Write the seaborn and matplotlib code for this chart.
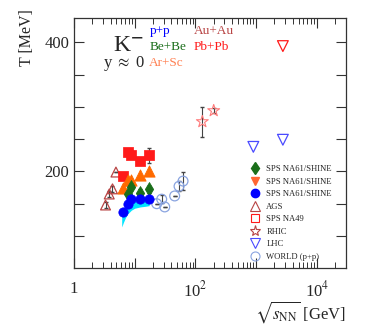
import numpy as np
import seaborn as sns
import matplotlib.pyplot as plt
import matplotlib.ticker as mticker
from matplotlib.lines import Line2D

# p+p NA61/SHINE
pp_s = [6.3, 7.6, 8.8, 12.3, 17.3]
pp_T = [137, 149, 157, 157, 157]
pp_err = [3, 4, 3, 3, 3]
# p+p fit band
band_s = [6.1, 6.5, 7.0, 7.6, 8.8, 10.0, 12.3, 15.0, 17.3]
band_lo = [114, 121, 128, 134, 140, 143, 145, 146, 147]
band_hi = [134, 141, 147, 152, 157, 160, 161, 161, 160]
# Be+Be NA61/SHINE
bebe_s = [7.6, 8.8, 12.3, 17.3]
bebe_T = [165, 176, 167, 172]
bebe_err = [5, 5, 5, 5]
# Ar+Sc NA61/SHINE
arsc_s = [6.3, 7.6, 8.8, 12.3, 17.3]
arsc_T = [174, 186, 187, 195, 200]
# Pb+Pb NA49
na49_s = [6.3, 7.6, 8.8, 12.3, 17.3]
na49_T = [193, 230, 225, 216, 225]
na49_err = [4, 5, 5, 5, 12]
# AGS Au+Au
ags_s = [3.3, 3.8, 4.3, 4.9]
ags_T = [148, 165, 173, 199]
ags_err = [5, 5, 5, 0]
# RHIC Au+Au
rhic_s = [130, 200]
rhic_T = [277, 294]
rhic_err = [23, 4]
# LHC p+p and Pb+Pb
lhc_pp_s = [900, 2760]
lhc_pp_T = [238, 249]
lhc_pb_s = [2760]
lhc_pb_T = [394]
# world p+p
world_s = [23, 27.8, 31.2, 45.5, 53.7, 62.5]
world_T = [150, 157, 145, 162, 177, 185]
world_err = [0, 6, 0, 0, 8, 14]

legend_labels = ["SPS NA61/SHINE", "SPS NA61/SHINE", "SPS NA61/SHINE", "AGS",
                 "SPS NA49", "RHIC", "LHC", "WORLD (p+p)"]

sns.set_style("ticks")
plt.rcParams['font.family'] = ['Liberation Serif', 'DejaVu Serif']
plt.rcParams['mathtext.fontset'] = 'stix'

fig = plt.figure(figsize=(3.74, 3.36), dpi=100)
ax = fig.add_axes([0.198, 0.2015, 0.7265, 0.744])

c_blue = "#0000ff"
c_green = "#1a6e1a"
c_orange = "#ff6a00"
c_red = "#ff1a1a"
c_brown = "#b84444"
c_salmon = "#ff7a7a"
c_lblue = "#8aa4e0"
c_lhc = "#4a4aff"
c_arsc = "#ff7f50"

ax.fill_between(band_s, band_lo, band_hi, color="#00e5ff", lw=0, zorder=1)

ebkw = dict(fmt="none", ecolor="#444444", elinewidth=0.8, capsize=1.2, zorder=2)
ax.errorbar(ags_s, ags_T, yerr=ags_err, **ebkw)
ax.errorbar(na49_s, na49_T, yerr=na49_err, **ebkw)
ax.errorbar(bebe_s, bebe_T, yerr=bebe_err, **ebkw)
ax.errorbar(pp_s, pp_T, yerr=pp_err, **ebkw)
ax.errorbar(rhic_s, rhic_T, yerr=rhic_err, **ebkw)
ax.errorbar(world_s, world_T, yerr=world_err, **ebkw)

sns.scatterplot(x=ags_s, y=ags_T, marker="^", s=50, facecolor="none",
                edgecolor=c_brown, linewidth=0.9, ax=ax, zorder=3)
sns.scatterplot(x=world_s, y=world_T, marker="o", s=50, facecolor="none",
                edgecolor=c_lblue, linewidth=0.9, ax=ax, zorder=3)
sns.scatterplot(x=na49_s, y=na49_T, marker="s", s=45, color=c_red,
                edgecolor=c_red, ax=ax, zorder=4)
sns.scatterplot(x=arsc_s, y=arsc_T, marker="^", s=65, color=c_orange,
                edgecolor=c_orange, ax=ax, zorder=4)
sns.scatterplot(x=bebe_s, y=bebe_T, marker="d", s=50, color=c_green,
                edgecolor=c_green, ax=ax, zorder=5)
sns.scatterplot(x=pp_s, y=pp_T, marker="o", s=45, color=c_blue,
                edgecolor=c_blue, ax=ax, zorder=5)
sns.scatterplot(x=rhic_s, y=rhic_T, marker="*", s=80, facecolor="none",
                edgecolor=c_salmon, linewidth=0.8, ax=ax, zorder=4)
sns.scatterplot(x=lhc_pp_s, y=lhc_pp_T, marker="v", s=60, facecolor="none",
                edgecolor=c_lhc, linewidth=0.9, ax=ax, zorder=4)
sns.scatterplot(x=lhc_pb_s, y=lhc_pb_T, marker="v", s=60, facecolor="none",
                edgecolor=c_red, linewidth=0.9, ax=ax, zorder=4)

ax.set_xscale("log")
ax.set_xlim(1, 3e4)
ax.set_ylim(50, 437)

ax.xaxis.set_major_locator(mticker.LogLocator(base=10, numticks=10))
ax.xaxis.set_minor_locator(mticker.LogLocator(base=10, subs=np.arange(2, 10), numticks=20))
ax.xaxis.set_minor_formatter(mticker.NullFormatter())
xlab = {1: "1", 100: r"10$^{2}$", 10000: r"10$^{4}$"}
ax.xaxis.set_major_formatter(mticker.FuncFormatter(
    lambda v, p: xlab.get(int(round(v)), "")))
ax.set_yticks(np.arange(100, 401, 50))
ax.yaxis.set_major_formatter(mticker.FuncFormatter(
    lambda v, p: str(int(v)) if v in (200, 400) else ""))

ax.tick_params(axis="both", which="both", direction="in", top=True, right=True,
               labelsize=12, color="#333333")
ax.tick_params(axis="both", which="major", length=7, width=0.8)
ax.tick_params(axis="x", which="minor", length=4, width=0.7)
ax.tick_params(axis="x", which="major", pad=9)
for sp in ax.spines.values():
    sp.set_linewidth(0.9)
    sp.set_color("#333333")

ax.set_ylabel("T [MeV]", loc="top", fontsize=11.5)
ax.yaxis.set_label_coords(-0.143, 1.035)
ax.set_xlabel(r"$\sqrt{s_{\mathrm{NN}}}$ [GeV]", loc="right", fontsize=12, labelpad=-1)

ax.text(0.145, 0.87, r"K$^{\mathbf{-}}$", transform=ax.transAxes, fontsize=17)
ax.text(0.105, 0.805, r"y $\approx$ 0", transform=ax.transAxes, fontsize=12)
ax.text(0.277, 0.938, "p+p", color=c_blue, transform=ax.transAxes, fontsize=9.5)
ax.text(0.277, 0.874, "Be+Be", color=c_green, transform=ax.transAxes, fontsize=9.5)
ax.text(0.277, 0.808, "Ar+Sc", color=c_arsc, transform=ax.transAxes, fontsize=9.5)
ax.text(0.44, 0.938, "Au+Au", color=c_brown, transform=ax.transAxes, fontsize=9.5)
ax.text(0.44, 0.874, "Pb+Pb", color=c_red, transform=ax.transAxes, fontsize=9.5)

handles = [
    Line2D([], [], ls="", marker="d", ms=6, color=c_green),
    Line2D([], [], ls="", marker="v", ms=6, color="#ff6633"),
    Line2D([], [], ls="", marker="o", ms=6, color=c_blue),
    Line2D([], [], ls="", marker="^", ms=6.5, mfc="none", mec=c_brown, mew=0.8),
    Line2D([], [], ls="", marker="s", ms=6, mfc="none", mec=c_red, mew=0.8),
    Line2D([], [], ls="", marker="*", ms=8, mfc="none", mec=c_brown, mew=0.8),
    Line2D([], [], ls="", marker="v", ms=6.5, mfc="none", mec=c_lhc, mew=0.8),
    Line2D([], [], ls="", marker="o", ms=6.5, mfc="none", mec=c_lblue, mew=0.8),
]
ax.legend(handles, legend_labels, loc="upper left", bbox_to_anchor=(0.635, 0.43),
          frameon=False, fontsize=6.2, handlelength=1.0, handletextpad=0.8,
          labelspacing=0.52, borderpad=0)

fig.savefig("out.png", dpi=100)
